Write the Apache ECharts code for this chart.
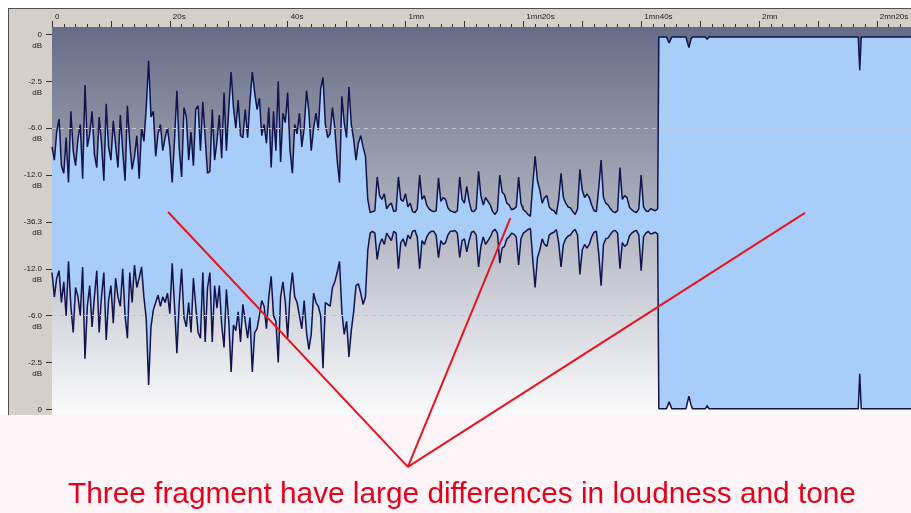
<!DOCTYPE html>
<html>
<head>
<meta charset="utf-8">
<script src="https://cdn.jsdelivr.net/npm/echarts@6/dist/echarts.min.js"></script>
<style>
  html, body { margin: 0; padding: 0; background: #ffffff; }
  #chart { width: 911px; height: 513px; }
</style>
</head>
<body>
<div id="chart"></div>
<script>
// Peak envelope of the recording, one sample every STEP seconds (0 s .. 102.8 s)
const STEP = 0.4;

const upperEnvelope = [
  0.40,0.33,0.48,0.55,0.30,0.26,0.45,0.21,0.59,0.38,
  0.30,0.44,0.52,0.23,0.73,0.40,0.47,0.59,0.36,0.29,
  0.56,0.42,0.22,0.63,0.40,0.33,0.54,0.41,0.29,0.57,
  0.38,0.22,0.62,0.42,0.28,0.35,0.46,0.23,0.50,0.43,
  0.61,0.86,0.56,0.59,0.35,0.47,0.52,0.38,0.45,0.50,
  0.40,0.21,0.44,0.70,0.39,0.24,0.61,0.56,0.33,0.48,
  0.30,0.60,0.62,0.38,0.64,0.45,0.26,0.27,0.60,0.33,
  0.43,0.57,0.34,0.69,0.38,0.60,0.80,0.61,0.50,0.65,
  0.46,0.45,0.60,0.45,0.64,0.80,0.69,0.60,0.66,0.46,
  0.52,0.42,0.61,0.29,0.59,0.38,0.75,0.32,0.58,0.53,
  0.69,0.38,0.26,0.52,0.47,0.58,0.40,0.50,0.70,0.59,
  0.38,0.50,0.58,0.49,0.71,0.77,0.52,0.45,0.47,0.61,
  0.50,0.33,0.21,0.67,0.53,0.45,0.72,0.52,0.44,0.33,
  0.42,0.46,0.40,0.35,0.12,0.05,
  0.055,0.06,0.24,0.14,0.12,0.15,0.07,0.09,0.10,0.055,
  0.06,0.24,0.12,0.11,0.15,0.08,0.10,0.055,0.05,0.07,
  0.25,0.12,0.14,0.09,0.07,0.06,0.055,0.06,0.235,0.11,
  0.13,0.12,0.075,0.06,0.055,0.05,0.06,0.24,0.12,0.10,
  0.19,0.11,0.06,0.055,0.07,0.27,0.14,0.09,0.13,0.11,
  0.09,0.055,0.04,0.06,0.25,0.16,0.145,0.10,0.09,0.065,
  0.07,0.08,0.24,0.10,0.065,0.055,0.04,0.03,0.20,0.35,
  0.22,0.17,0.10,0.13,0.14,0.08,0.065,0.06,0.04,0.12,
  0.26,0.13,0.10,0.08,0.075,0.055,0.04,0.07,0.28,0.17,
  0.13,0.15,0.13,0.09,0.06,0.055,0.18,0.33,0.13,0.10,
  0.09,0.07,0.055,0.05,0.06,0.29,0.12,0.14,0.13,0.08,
  0.065,0.055,0.05,0.07,0.25,0.08,0.06,0.055,0.07,0.065,
  0.06,0.07
];

const lowerEnvelope = [
  -0.27,-0.40,-0.30,-0.26,-0.43,-0.32,-0.50,-0.21,-0.45,-0.59,
  -0.35,-0.40,-0.50,-0.24,-0.73,-0.45,-0.34,-0.56,-0.40,-0.26,
  -0.59,-0.40,-0.27,-0.63,-0.42,-0.34,-0.54,-0.30,-0.40,-0.45,
  -0.25,-0.50,-0.62,-0.27,-0.43,-0.23,-0.35,-0.30,-0.24,-0.40,
  -0.52,-0.87,-0.56,-0.47,-0.43,-0.39,-0.45,-0.40,-0.43,-0.38,
  -0.49,-0.22,-0.45,-0.70,-0.43,-0.25,-0.51,-0.56,-0.43,-0.59,
  -0.30,-0.45,-0.59,-0.62,-0.27,-0.64,-0.35,-0.27,-0.64,-0.34,
  -0.46,-0.34,-0.55,-0.67,-0.36,-0.53,-0.80,-0.55,-0.58,-0.48,
  -0.64,-0.44,-0.53,-0.62,-0.51,-0.80,-0.59,-0.57,-0.50,-0.42,
  -0.45,-0.57,-0.40,-0.29,-0.50,-0.53,-0.75,-0.40,-0.32,-0.43,
  -0.62,-0.39,-0.27,-0.40,-0.43,-0.50,-0.57,-0.42,-0.59,-0.68,
  -0.60,-0.38,-0.43,-0.45,-0.50,-0.78,-0.43,-0.44,-0.45,-0.35,
  -0.32,-0.27,-0.21,-0.48,-0.60,-0.53,-0.72,-0.58,-0.48,-0.34,
  -0.33,-0.38,-0.44,-0.40,-0.15,-0.06,
  -0.05,-0.06,-0.20,-0.12,-0.09,-0.12,-0.06,-0.08,-0.10,-0.05,
  -0.06,-0.25,-0.11,-0.09,-0.13,-0.07,-0.09,-0.05,-0.045,-0.08,
  -0.25,-0.10,-0.12,-0.08,-0.06,-0.05,-0.05,-0.07,-0.19,-0.10,
  -0.12,-0.11,-0.07,-0.05,-0.05,-0.045,-0.06,-0.19,-0.10,-0.09,
  -0.16,-0.10,-0.055,-0.05,-0.07,-0.24,-0.13,-0.08,-0.12,-0.10,
  -0.08,-0.05,-0.04,-0.06,-0.22,-0.14,-0.13,-0.09,-0.08,-0.06,
  -0.065,-0.08,-0.23,-0.09,-0.06,-0.05,-0.04,-0.035,-0.20,-0.35,
  -0.19,-0.15,-0.09,-0.12,-0.13,-0.07,-0.06,-0.055,-0.04,-0.11,
  -0.24,-0.12,-0.09,-0.075,-0.07,-0.05,-0.04,-0.07,-0.28,-0.15,
  -0.12,-0.14,-0.12,-0.08,-0.055,-0.05,-0.17,-0.34,-0.12,-0.09,
  -0.085,-0.065,-0.05,-0.045,-0.06,-0.25,-0.11,-0.13,-0.12,-0.075,
  -0.06,-0.05,-0.045,-0.07,-0.26,-0.08,-0.06,-0.05,-0.065,-0.06,
  -0.055,-0.065
];

// Third fragment: near full scale, listed at its breakpoints (seconds)
const tailTime  = [103.0, 104.3, 104.75, 105.2, 107.6, 108.1, 108.45, 108.7, 110.9, 111.2, 111.5, 136.85, 137.1, 137.35, 145.8];
const tailUpper = [0.987, 0.987, 0.955, 0.987, 0.987, 0.93, 0.975, 0.987, 0.987, 0.975, 0.987, 0.987, 0.81, 0.987, 0.987];
const tailLower = [-0.997, -0.997, -0.96, -0.997, -0.997, -0.93, -0.975, -0.997, -0.997, -0.98, -0.997, -0.997, -0.81, -0.997, -0.997];

// Ruler (seconds) and level scale
const timeTicks = [0, 20, 40, 60, 80, 100, 120, 140];
const timeTickLabels = ['0', '20s', '40s', '1mn', '1mn20s', '1mn40s', '2mn', '2mn20s'];
const levelTicks = [1, 0.75, 0.5, 0.25, 0, -0.25, -0.5, -0.75, -1];
const levelTickLabels = ['0', '-2.5', '-6.0', '-12.0', '-36.3', '-12.0', '-6.0', '-2.5', '0'];
const levelTickUnits = ['dB', 'dB', 'dB', 'dB', 'dB', 'dB', 'dB', 'dB', ' '];
const guideLevels = [0.5, -0.5];

// Callout: three fragments pointed at from one apex below the view
const calloutTargets = [[19.7, 0.053], [77.8, 0.02], [127.8, 0.048]];
const calloutApex = [60.4, -1.307];
const caption = 'Three fragment have large differences in loudness and tone';

function findIndex(list, v) {
  for (let i = 0; i < list.length; i++) if (Math.abs(list[i] - v) < 1e-6) return i;
  return -1;
}

const upperData = upperEnvelope.map((v, i) => [+(i * STEP).toFixed(2), v])
  .concat(tailTime.map((t, i) => [t, tailUpper[i]]));
const lowerData = lowerEnvelope.map((v, i) => [+(i * STEP).toFixed(2), v])
  .concat(tailTime.map((t, i) => [t, tailLower[i]]));

// target1 -> apex -> target2 -> apex -> target3
const calloutPath = [];
calloutTargets.forEach((p, i) => {
  if (i > 0) calloutPath.push(calloutApex);
  calloutPath.push(p);
  if (i === 0) calloutPath.push(calloutApex);
});

const X_MAX = 145.8;
const waveLine = { color: '#12124c', width: 1.5 };
const waveFill = { color: '#a7cdf8', opacity: 1 };
const panelGray = '#d4d0c8';
const labelFont = 'Liberation Sans';

// extra ruler axes that only carry tick marks
function rulerTicks(interval, length) {
  return {
    type: 'value', position: 'top', min: 0, max: X_MAX, interval: interval,
    axisLine: { show: false }, splitLine: { show: false },
    axisTick: { show: true, length: length, lineStyle: { color: '#333333', width: 1 } },
    axisLabel: { show: false }
  };
}

const chart = echarts.init(document.getElementById('chart'), null, { renderer: 'canvas' });

chart.setOption({
  animation: false,
  backgroundColor: '#ffffff',
  title: {
    text: caption,
    left: 68,
    top: 480,
    padding: 0,
    textStyle: { color: '#e6001a', fontSize: 29.8, fontWeight: 'normal', fontFamily: labelFont }
  },
  graphic: [
    { type: 'rect', z: -10, shape: { x: 8, y: 8, width: 903, height: 1 }, style: { fill: '#505050' } },
    { type: 'rect', z: -10, shape: { x: 8, y: 9, width: 903, height: 18 }, style: { fill: panelGray } },
    { type: 'rect', z: -10, shape: { x: 8, y: 27, width: 44, height: 388 }, style: { fill: panelGray } },
    { type: 'rect', z: -10, shape: { x: 8, y: 8, width: 1, height: 407 }, style: { fill: '#505050' } },
    { type: 'rect', z: -10, shape: { x: 0, y: 415, width: 911, height: 98 }, style: { fill: '#fff5f8' } }
  ],
  grid: {
    left: 52, right: 0, top: 27, bottom: 98,
    containLabel: false,
    outerBoundsMode: 'none',
    show: true, borderWidth: 0,
    backgroundColor: {
      type: 'linear', x: 0, y: 0, x2: 0, y2: 1,
      colorStops: [{ offset: 0, color: '#656c85' }, { offset: 1, color: '#fbfbfc' }]
    }
  },
  xAxis: [
    {
      type: 'value', position: 'top', min: 0, max: X_MAX, interval: 20,
      axisLine: { show: false },
      splitLine: { show: false },
      axisTick: { show: true, length: 17, lineStyle: { color: '#707070', width: 1 } },
      axisLabel: {
        show: true, margin: 6, align: 'left', padding: [0, 0, 0, 3],
        fontSize: 8, fontFamily: labelFont, color: '#1a1a1a',
        formatter: v => { const k = findIndex(timeTicks, v); return k < 0 ? '' : timeTickLabels[k]; }
      }
    },
    rulerTicks(10, 6),
    rulerTicks(2, 3)
  ],
  yAxis: {
    type: 'value', min: -1.03, max: 1.04,
    axisLine: { show: false },
    splitLine: { show: false },
    axisTick: { show: true, customValues: levelTicks, length: 6, lineStyle: { color: '#333333', width: 1 } },
    axisLabel: {
      show: true, customValues: levelTicks, margin: 10,
      fontSize: 8, fontFamily: labelFont, color: '#1a1a1a',
      lineHeight: 11, verticalAlign: 'middle', align: 'right',
      formatter: v => {
        const k = findIndex(levelTicks, v);
        // blank first line keeps the number centred on its tick, unit below
        return k < 0 ? '' : ' \n' + levelTickLabels[k] + '\n' + levelTickUnits[k];
      }
    }
  },
  series: [
    {
      name: 'guides', type: 'line', data: [], z: 1, silent: true,
      markLine: {
        silent: true, symbol: 'none', label: { show: false },
        lineStyle: { type: [4, 4], color: '#c4c4ca', width: 1 },
        data: guideLevels.map(v => ({ yAxis: v }))
      }
    },
    {
      name: 'upper', type: 'line', data: upperData, z: 3,
      symbol: 'none', showSymbol: false, sampling: null, silent: true,
      lineStyle: waveLine, areaStyle: waveFill
    },
    {
      name: 'lower', type: 'line', data: lowerData, z: 3,
      symbol: 'none', showSymbol: false, sampling: null, silent: true,
      lineStyle: waveLine, areaStyle: waveFill
    },
    {
      name: 'callout', type: 'line', data: calloutPath, z: 6, clip: false,
      symbol: 'none', showSymbol: false, silent: true,
      lineStyle: { color: '#e8141e', width: 2 }
    }
  ]
});
</script>
</body>
</html>
